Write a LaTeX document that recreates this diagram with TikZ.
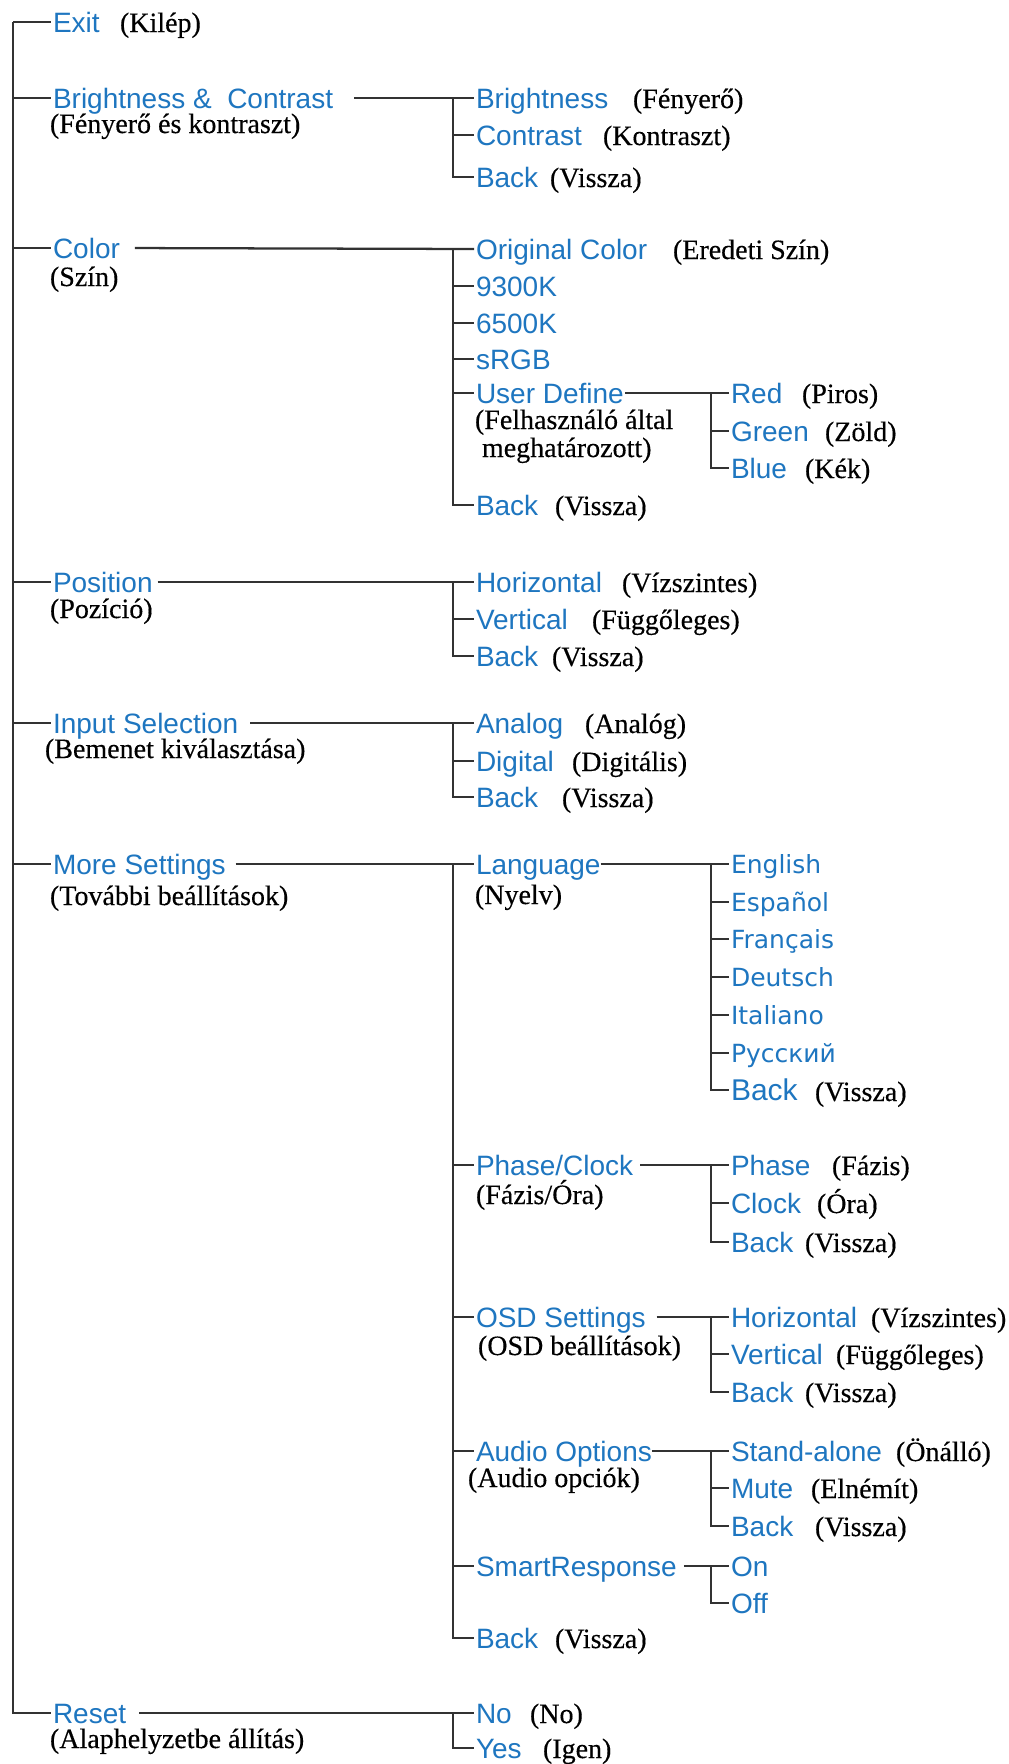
\documentclass[tikz,border=0pt]{standalone}
\usepackage{fontspec}
\setmainfont{Liberation Serif}[FakeBold=0.35]
\setsansfont{Liberation Sans}
\newfontfamily\langfont{DejaVu Sans}
\definecolor{menublue}{RGB}{30,118,192}
\definecolor{linecol}{RGB}{50,50,50}
\begin{document}
\begin{tikzpicture}[x=0.75pt,y=-0.75pt,
  conn/.style={draw=linecol, line width=1.7pt},
  stub/.style={conn, shorten >=1.5pt},
  blu/.style={font=\sffamily\fontsize{21}{24}\selectfont, text=menublue, inner sep=0pt, outer sep=0pt, anchor=west, text height=15pt, text depth=0pt},
  langitem/.style={blu, font=\langfont\fontsize{18.75}{22}\selectfont, text height=13.7pt},
  langback/.style={blu, font=\sffamily\fontsize{22.5}{26}\selectfont, text height=16.1pt},
  gloss/.style={font=\rmfamily\fontsize{21}{22}\selectfont, inner sep=0pt, outer sep=0pt, anchor=base west, text=black}]
\useasboundingbox (0,0) rectangle (1008,1764);
\fill[white] (0,0) rectangle (1008,1764);
\coordinate (trunk) at (13,0);
\coordinate (v2) at (453,0);
\coordinate (v3) at (711,0);

% ---------- level 1 ----------
\node[blu] (exit)  at (53,22)   {Exit};
\node[gloss] (exitg) at (120,32) {(Kilép)};
\node[blu] (bc)    at (53,98)   {Brightness \&\ \ Contrast};
\node[gloss] (bcg) at (50,133)  {(Fényerő és kontraszt)};
\node[blu] (color) at (53,248)  {Color};
\node[gloss] (colorg) at (50,286) {(Szín)};
\node[blu] (pos)   at (53,582)  {Position};
\node[gloss] (posg) at (50,618) {(Pozíció)};
\node[blu] (input) at (53,723)  {Input Selection};
\node[gloss] (inputg) at (45,758) {(Bemenet kiválasztása)};
\node[blu] (more)  at (53,864)  {More Settings};
\node[gloss] (moreg) at (50,905) {(További beállítások)};
\node[blu] (reset) at (53,1713) {Reset};
\node[gloss] (resetg) at (50,1748) {(Alaphelyzetbe állítás)};

% ---------- Brightness & Contrast ----------
\node[blu] (bright) at (476,98)  {Brightness};
\node[gloss] at (633,108) {(Fényerő)};
\node[blu] (contr)  at (476,135) {Contrast};
\node[gloss] at (603,145) {(Kontraszt)};
\node[blu] (bcback) at (476,177) {Back};
\node[gloss] at (550,187) {(Vissza)};

% ---------- Color ----------
\node[blu] (orig)  at (476,249) {Original Color};
\node[gloss] at (673,259) {(Eredeti Szín)};
\node[blu] (k93)   at (476,286) {9300K};
\node[blu] (k65)   at (476,323) {6500K};
\node[blu] (srgb)  at (476,359) {sRGB};
\node[blu] (user)  at (476,393) {User Define};
\node[gloss] (userg1) at (475,429) {(Felhasználó által};
\node[gloss] (userg2) at (482,457) {meghatározott)};
\node[blu] (colback) at (476,505) {Back};
\node[gloss] at (555,515) {(Vissza)};
\node[blu] (red)   at (731,393) {Red};
\node[gloss] at (802,403) {(Piros)};
\node[blu] (green) at (731,431) {Green};
\node[gloss] at (825,441) {(Zöld)};
\node[blu] (blue)  at (731,468) {Blue};
\node[gloss] at (805,478) {(Kék)};

% ---------- Position ----------
\node[blu] (horiz) at (476,582) {Horizontal};
\node[gloss] at (622,592) {(Vízszintes)};
\node[blu] (vert)  at (476,619) {Vertical};
\node[gloss] at (592,629) {(Függőleges)};
\node[blu] (posback) at (476,656) {Back};
\node[gloss] at (552,666) {(Vissza)};

% ---------- Input Selection ----------
\node[blu] (analog)  at (476,723) {Analog};
\node[gloss] at (585,733) {(Analóg)};
\node[blu] (digital) at (476,761) {Digital};
\node[gloss] at (572,771) {(Digitális)};
\node[blu] (inback)  at (476,797) {Back};
\node[gloss] at (562,807) {(Vissza)};

% ---------- More Settings ----------
\node[blu] (lang)  at (476,864)  {Language};
\node[gloss] (langg) at (475,904) {(Nyelv)};
\node[blu] (phase) at (476,1165) {Phase/Clock};
\node[gloss] (phaseg) at (476,1204) {(Fázis/Óra)};
\node[blu] (osd)   at (476,1317) {OSD Settings};
\node[gloss] (osdg) at (478,1355) {(OSD beállítások)};
\node[blu] (audio) at (476,1451) {Audio Options};
\node[gloss] (audiog) at (468,1487) {(Audio opciók)};
\node[blu] (smart) at (476,1566) {SmartResponse};
\node[blu] (moreback) at (476,1638) {Back};
\node[gloss] at (555,1648) {(Vissza)};

% Language
\node[langitem] (english)  at (731,864)  {English};
\node[langitem] (espanol)  at (731,902)  {Español};
\node[langitem] (francais) at (731,939)  {Français};
\node[langitem] (deutsch)  at (731,977)  {Deutsch};
\node[langitem] (italiano) at (731,1015) {Italiano};
\node[langitem] (russian)  at (731,1053) {Русский};
\node[langback] (langbk)   at (731,1090) {Back};
\node[gloss] at (815,1101) {(Vissza)};

% Phase/Clock
\node[blu] (phasei) at (731,1165) {Phase};
\node[gloss] at (832,1175) {(Fázis)};
\node[blu] (clock)  at (731,1203) {Clock};
\node[gloss] at (817,1213) {(Óra)};
\node[blu] (pcback) at (731,1242) {Back};
\node[gloss] at (805,1252) {(Vissza)};

% OSD Settings
\node[blu] (ohoriz) at (731,1317) {Horizontal};
\node[gloss] at (871,1327) {(Vízszintes)};
\node[blu] (overt)  at (731,1354) {Vertical};
\node[gloss] at (836,1364) {(Függőleges)};
\node[blu] (osdback) at (731,1392) {Back};
\node[gloss] at (805,1402) {(Vissza)};

% Audio Options
\node[blu] (stand) at (731,1451) {Stand-alone};
\node[gloss] at (896,1461) {(Önálló)};
\node[blu] (mute)  at (731,1488) {Mute};
\node[gloss] at (811,1498) {(Elnémít)};
\node[blu] (aback) at (731,1526) {Back};
\node[gloss] at (815,1536) {(Vissza)};

% SmartResponse
\node[blu] (on)  at (731,1566) {On};
\node[blu] (off) at (731,1603) {Off};

% ---------- Reset ----------
\node[blu] (no)  at (476,1713) {No};
\node[gloss] at (530,1723) {(No)};
\node[blu] (yes) at (476,1748) {Yes};
\node[gloss] at (543,1758) {(Igen)};

% ================= connectors =================
% trunk
\draw[stub] (trunk |- exit.west) |- (reset.west);
\foreach \n in {exit,bc,color,pos,input,more}
  \draw[stub] (trunk |- \n.west) -- (\n.west);

% Brightness & Contrast
\draw[stub, shorten <=15.75pt] (bc.east) -- (bright.west);
\draw[stub] (v2 |- bright.west) |- (bcback.west);
\draw[stub] (v2 |- contr.west) -- (contr.west);

% Color
\draw[stub, shorten <=11.25pt] (color.east) -- (orig.west);
\draw[stub] (v2 |- orig.west) |- (colback.west);
\foreach \n in {k93,k65,srgb,user}
  \draw[stub] (v2 |- \n.west) -- (\n.west);
\draw[stub, shorten <=1pt] (user.east) -- (red.west);
\draw[stub] (v3 |- red.west) |- (blue.west);
\draw[stub] (v3 |- green.west) -- (green.west);

% Position
\draw[stub, shorten <=3.75pt] (pos.east) -- (horiz.west);
\draw[stub] (v2 |- horiz.west) |- (posback.west);
\draw[stub] (v2 |- vert.west) -- (vert.west);

% Input Selection
\draw[stub, shorten <=9pt] (input.east) -- (analog.west);
\draw[stub] (v2 |- analog.west) |- (inback.west);
\draw[stub] (v2 |- digital.west) -- (digital.west);

% More Settings
\draw[stub, shorten <=7.5pt] (more.east) -- (lang.west);
\draw[stub] (v2 |- lang.west) |- (moreback.west);
\foreach \n in {phase,osd,audio,smart}
  \draw[stub] (v2 |- \n.west) -- (\n.west);

% Language
\draw[stub] (lang.east) -- (english.west);
\draw[stub] (v3 |- english.west) |- (langbk.west);
\foreach \n in {espanol,francais,deutsch,italiano,russian}
  \draw[stub] (v3 |- \n.west) -- (\n.west);

% Phase/Clock
\draw[stub, shorten <=5.25pt] (phase.east) -- (phasei.west);
\draw[stub] (v3 |- phasei.west) |- (pcback.west);
\draw[stub] (v3 |- clock.west) -- (clock.west);

% OSD Settings
\draw[stub, shorten <=8.25pt] (osd.east) -- (ohoriz.west);
\draw[stub] (v3 |- ohoriz.west) |- (osdback.west);
\draw[stub] (v3 |- overt.west) -- (overt.west);

% Audio Options
\draw[stub] (audio.east) -- (stand.west);
\draw[stub] (v3 |- stand.west) |- (aback.west);
\draw[stub] (v3 |- mute.west) -- (mute.west);

% SmartResponse
\draw[stub, shorten <=5.25pt] (smart.east) -- (on.west);
\draw[stub] (v3 |- on.west) |- (off.west);

% Reset
\draw[stub, shorten <=9.75pt] (reset.east) -- (no.west);
\draw[stub] (v2 |- no.west) |- (yes.west);
\end{tikzpicture}
\end{document}
